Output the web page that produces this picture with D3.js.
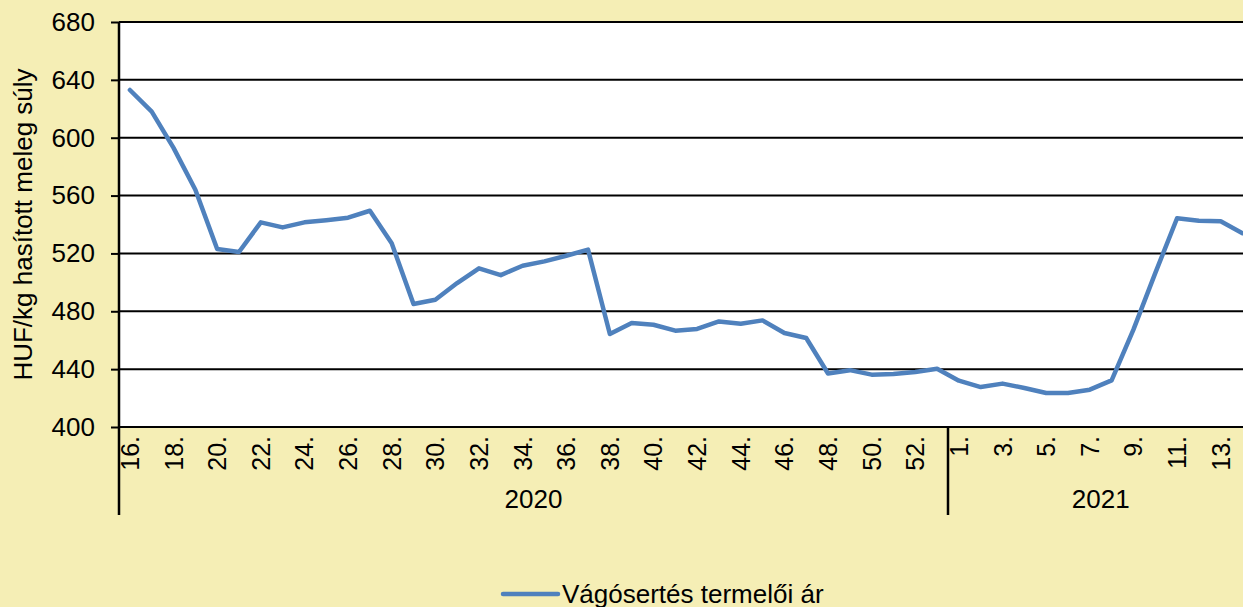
<!DOCTYPE html>
<html>
<head>
<meta charset="utf-8">
<script src="https://cdn.jsdelivr.net/npm/d3@7"></script>
<style>
  body { margin: 0; overflow: hidden; background: #f5eeb5; }
  text { font-family: "Liberation Sans", Arial, sans-serif; fill: #000; }
</style>
</head>
<body>
<div id="chart"></div>
<script>
// weeks and prices (HUF/kg hasított meleg súly)
const weeks2020 = [16,17,18,19,20,21,22,23,24,25,26,27,28,29,30,31,32,33,34,35,36,37,38,39,40,41,42,43,44,45,46,47,48,49,50,51,52,53];
const weeks2021 = [1,2,3,4,5,6,7,8,9,10,11,12,13,14];
const prices2020 = [633,618,593,564,523,521,541.5,538,541.5,543,544.7,549.5,527,485,488,499.5,509.7,505,511.5,514.5,518.4,522.6,464.3,471.9,470.7,466.6,467.8,473,471.4,473.7,465,461.5,437,439.3,436.2,436.6,438,440.3];
const prices2021 = [432,427.6,430,427,423.5,423.5,425.8,432.2,467.3,506.4,544.3,542.6,542.2,534];
const years = ["2020", "2021"];
const yTicks = [400,440,480,520,560,600,640,680];
const seriesName = "Vágósertés termelői ár";

const width = 1243, height = 607;
const plotLeft = 119, plotTop = 22, plotBottom = 427;
const bandW = (948 - plotLeft) / weeks2020.length; // ~21.8 px per week
const plotRight = plotLeft + bandW * (weeks2020.length + weeks2021.length); // runs past the window edge

const data = [
  ...weeks2020.map((w, i) => ({ key: "2020-" + w, week: w, year: "2020", value: prices2020[i] })),
  ...weeks2021.map((w, i) => ({ key: "2021-" + w, week: w, year: "2021", value: prices2021[i] }))
];

const svg = d3.select("#chart").append("svg")
  .attr("width", width).attr("height", height);

const x = d3.scaleBand().domain(data.map(d => d.key)).range([plotLeft, plotRight]);
const y = d3.scaleLinear().domain([400, 680]).range([plotBottom, plotTop]);
const cx = k => x(k) + x.bandwidth() / 2;

// plot area
svg.append("rect")
  .attr("x", plotLeft).attr("y", plotTop)
  .attr("width", plotRight - plotLeft).attr("height", plotBottom - plotTop)
  .attr("fill", "#fff");

// gridlines
svg.append("g")
  .selectAll("line").data(yTicks).join("line")
  .attr("x1", plotLeft).attr("x2", plotRight)
  .attr("y1", d => y(d)).attr("y2", d => y(d))
  .attr("stroke", "#000").attr("stroke-width", 2);

// y axis
const yAxis = svg.append("g")
  .attr("transform", `translate(${plotLeft},0)`)
  .call(d3.axisLeft(y).tickValues(yTicks).tickSize(8).tickPadding(16));
yAxis.select(".domain").remove();
yAxis.selectAll("line").attr("stroke", "#000").attr("stroke-width", 2);
yAxis.selectAll("text").style("font-size", "26px").style("font-family", "Liberation Sans, Arial, sans-serif");

// axis line running down through the category labels
svg.append("line")
  .attr("x1", plotLeft).attr("x2", plotLeft).attr("y1", plotTop).attr("y2", 515)
  .attr("stroke", "#000").attr("stroke-width", 2.5);

// year separator
const sepX = x("2021-1");
svg.append("line")
  .attr("x1", sepX).attr("x2", sepX).attr("y1", plotBottom).attr("y2", 515)
  .attr("stroke", "#000").attr("stroke-width", 2.5);

// x labels, every other week
const xAxis = svg.append("g")
  .attr("transform", `translate(0,${plotBottom})`)
  .call(d3.axisBottom(x)
    .tickValues(data.filter((d, i) => i % 2 === 0).map(d => d.key))
    .tickSize(0)
    .tickFormat(k => k.split("-")[1] + "."));
xAxis.select(".domain").remove();
xAxis.selectAll("text")
  .attr("transform", "rotate(-90)")
  .attr("x", -9).attr("y", 0).attr("dy", "0.36em")
  .attr("text-anchor", "end")
  .style("font-size", "25px").style("font-family", "Liberation Sans, Arial, sans-serif");

// year labels
svg.append("g").selectAll("text").data(years).join("text")
  .attr("x", yr => {
    const keys = data.filter(d => d.year === yr).map(d => d.key);
    return (x(keys[0]) + x(keys[keys.length - 1]) + x.bandwidth()) / 2;
  })
  .attr("y", 508)
  .attr("text-anchor", "middle")
  .style("font-size", "26px")
  .text(d => d);

// the line
svg.append("path")
  .datum(data)
  .attr("fill", "none")
  .attr("stroke", "#4f81bd")
  .attr("stroke-width", 4.5)
  .attr("stroke-linejoin", "round")
  .attr("stroke-linecap", "round")
  .attr("d", d3.line().x(d => cx(d.key)).y(d => y(d.value)));

// y title
svg.append("text")
  .attr("transform", `translate(23,${(plotTop + plotBottom) / 2}) rotate(-90)`)
  .attr("text-anchor", "middle")
  .attr("dy", "0.35em")
  .style("font-size", "26px")
  .text("HUF/kg hasított meleg súly");

// legend
const lg = svg.append("g").attr("transform", "translate(503,594)");
lg.append("line").attr("x1", 0).attr("x2", 55)
  .attr("stroke", "#4f81bd").attr("stroke-width", 4.5).attr("stroke-linecap", "round");
lg.append("text").attr("x", 59).attr("y", 8.5)
  .style("font-size", "26px")
  .text(seriesName);
</script>
</body>
</html>
